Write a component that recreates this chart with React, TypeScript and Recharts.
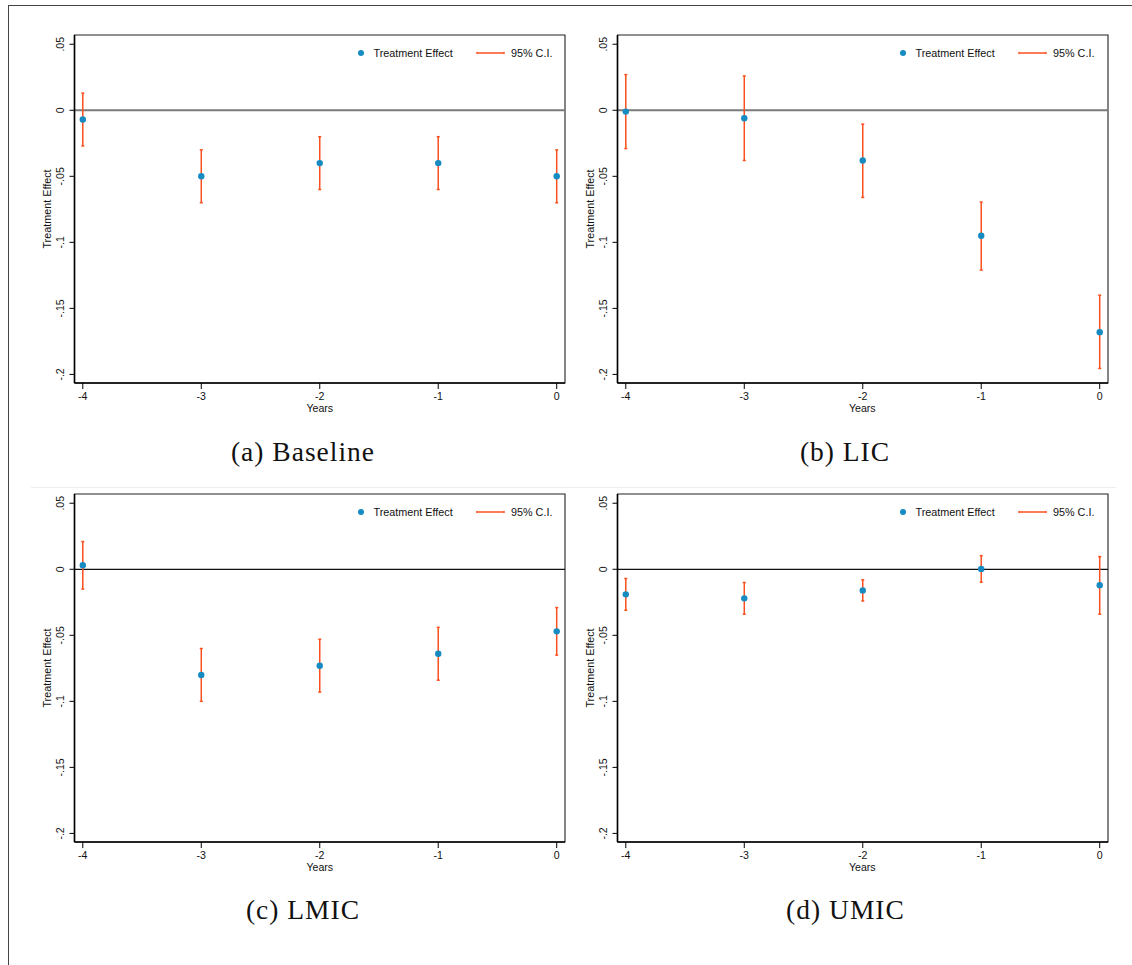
import React from 'react';
import {
  ScatterChart,
  Scatter,
  XAxis,
  YAxis,
  ErrorBar,
  ReferenceLine,
  ReferenceArea,
} from 'recharts';

const years = [-4, -3, -2, -1, 0];
const yTicks = [-0.2, -0.15, -0.1, -0.05, 0, 0.05];

const baselineEst = [-0.007, -0.05, -0.04, -0.04, -0.05];
const baselineLo = [-0.027, -0.07, -0.06, -0.06, -0.07];
const baselineHi = [0.013, -0.03, -0.02, -0.02, -0.03];

const licEst = [-0.001, -0.006, -0.038, -0.095, -0.168];
const licLo = [-0.029, -0.038, -0.066, -0.121, -0.1955];
const licHi = [0.027, 0.026, -0.0105, -0.0695, -0.14];

const lmicEst = [0.003, -0.08, -0.073, -0.064, -0.047];
const lmicLo = [-0.015, -0.1, -0.093, -0.084, -0.065];
const lmicHi = [0.021, -0.06, -0.053, -0.044, -0.029];

const umicEst = [-0.019, -0.022, -0.016, 0.0003, -0.012];
const umicLo = [-0.031, -0.034, -0.024, -0.0098, -0.034];
const umicHi = [-0.007, -0.01, -0.008, 0.0103, 0.0096];

const X_DOMAIN: [number, number] = [-4.07, 0.07];
const Y_DOMAIN: [number, number] = [-0.2065, 0.057];

const DOT = '#168bc2';
const CI = '#fa501e';
const SANS = '"Liberation Sans", Arial, sans-serif';
const SERIF = '"Liberation Serif", "Times New Roman", serif';

// chart box geometry (plot area = 74.5..565 x 35..383 inside each chart)
const CW = 580;
const CH = 440;
const PL = 74.5;
const PT = 35;
const PW = 490.5;
const PH = 348;

function rows(est: number[], lo: number[], hi: number[]) {
  return years.map((x, i) => ({
    x,
    y: est[i],
    err: [est[i] - lo[i], hi[i] - est[i]],
  }));
}

function fmtY(v: number) {
  if (v === 0) return '0';
  return (v < 0 ? '-' : '') + String(Math.abs(v)).replace(/^0/, '');
}

function YTick({ x, y, payload }: any) {
  const tx = x - 3.5;
  return (
    <text
      x={tx}
      y={y}
      transform={`rotate(-90 ${tx} ${y})`}
      textAnchor="middle"
      fontSize={10.6}
      fontFamily={SANS}
      fill="#111"
    >
      {fmtY(payload.value)}
    </text>
  );
}

function Dot(props: any) {
  return <circle cx={props.cx} cy={props.cy} r={3.2} fill={DOT} />;
}

function Panel({
  left,
  top,
  data,
  title,
  titleX,
  titleY,
  zeroStyle,
}: {
  left: number;
  top: number;
  data: { x: number; y: number; err: number[] }[];
  title: string;
  titleX: number;
  titleY: number;
  zeroStyle: { stroke: string; width: number };
}) {
  const plotLeft = left + PL;
  const plotTop = top + PT;
  return (
    <>
      <div style={{ position: 'absolute', left, top, width: CW, height: CH }}>
        <ScatterChart
          width={CW}
          height={CH}
          margin={{ top: PT, right: CW - PL - PW, bottom: 17, left: 29.5 }}
        >
          <XAxis
            type="number"
            dataKey="x"
            domain={X_DOMAIN}
            allowDataOverflow
            ticks={years}
            height={40}
            tickSize={6}
            tickMargin={3}
            axisLine={{ stroke: '#000', strokeWidth: 1.6 }}
            tickLine={{ stroke: '#000' }}
            tick={{ fontSize: 10.6, fontFamily: SANS, fill: '#111' }}
          />
          <YAxis
            type="number"
            dataKey="y"
            domain={Y_DOMAIN}
            allowDataOverflow
            ticks={yTicks}
            width={45}
            tickSize={5}
            axisLine={{ stroke: '#000', strokeWidth: 1.6 }}
            tickLine={{ stroke: '#000' }}
            tick={<YTick />}
          />
          <ReferenceArea
            x1={X_DOMAIN[0]}
            x2={X_DOMAIN[1]}
            y1={Y_DOMAIN[0]}
            y2={Y_DOMAIN[1]}
            fill="none"
            stroke="#222"
            strokeWidth={1.1}
          />
          <ReferenceLine y={0} stroke={zeroStyle.stroke} strokeWidth={zeroStyle.width} />
          <Scatter data={data} shape={<Dot />} isAnimationActive={false}>
            <ErrorBar
              dataKey="err"
              direction="y"
              width={1.5}
              stroke={CI}
              strokeWidth={1.5}
              isAnimationActive={false}
            />
          </Scatter>
        </ScatterChart>
      </div>

      {/* legend */}
      <svg
        style={{ position: 'absolute', left: plotLeft + 280, top: plotTop + 10.5 }}
        width={200}
        height={14}
      >
        <circle cx={6} cy={7} r={3} fill={DOT} />
        <text x={18.5} y={10.8} fontSize={10.8} fontFamily={SANS} fill="#111">
          Treatment Effect
        </text>
        <line x1={121.5} x2={149.5} y1={7} y2={7} stroke={CI} strokeWidth={1.5} />
        <line x1={122} x2={122} y1={5.8} y2={8.2} stroke={CI} strokeWidth={1} />
        <line x1={149} x2={149} y1={5.8} y2={8.2} stroke={CI} strokeWidth={1} />
        <text x={156} y={10.8} fontSize={10.8} fontFamily={SANS} fill="#111">
          95% C.I.
        </text>
      </svg>

      {/* axis titles */}
      <div
        style={{
          position: 'absolute',
          left: plotLeft - 27.5,
          top: plotTop + PH / 2,
          transform: 'translate(-50%, -50%) rotate(-90deg)',
          fontFamily: SANS,
          fontSize: 10.8,
          lineHeight: 1,
          whiteSpace: 'nowrap',
          color: '#111',
        }}
      >
        Treatment Effect
      </div>
      <div
        style={{
          position: 'absolute',
          left: plotLeft + PW / 2,
          top: plotTop + PH + 25.3,
          transform: 'translate(-50%, -50%)',
          fontFamily: SANS,
          fontSize: 10.6,
          lineHeight: 1,
          whiteSpace: 'nowrap',
          color: '#111',
        }}
      >
        Years
      </div>

      {/* sub-caption */}
      <div
        style={{
          position: 'absolute',
          left: titleX,
          top: titleY,
          transform: 'translate(-50%, -50%)',
          fontFamily: SERIF,
          fontSize: 27.5,
          letterSpacing: 1,
          lineHeight: 1,
          whiteSpace: 'nowrap',
          color: '#111',
        }}
      >
        {title}
      </div>
    </>
  );
}

export default function App() {
  const topZero = { stroke: '#7a7a7a', width: 2 };
  const botZero = { stroke: '#111', width: 1.2 };
  return (
    <div
      style={{
        position: 'absolute',
        left: 0,
        top: 0,
        width: 1132,
        height: 965,
        background: '#fff',
        overflow: 'hidden',
      }}
    >
      {/* figure frame */}
      <div
        style={{
          position: 'absolute',
          left: 8,
          top: 5,
          width: 1124,
          height: 960,
          borderTop: '1px solid #444',
          borderLeft: '1px solid #444',
        }}
      />
      <div
        style={{
          position: 'absolute',
          left: 31,
          top: 487,
          width: 1085,
          height: 1,
          background: '#eee',
        }}
      />

      <Panel
        left={0}
        top={0}
        data={rows(baselineEst, baselineLo, baselineHi)}
        title="(a) Baseline"
        titleX={303}
        titleY={452}
        zeroStyle={topZero}
      />
      <Panel
        left={542.5}
        top={0}
        data={rows(licEst, licLo, licHi)}
        title="(b) LIC"
        titleX={845}
        titleY={452}
        zeroStyle={topZero}
      />
      <Panel
        left={0}
        top={459}
        data={rows(lmicEst, lmicLo, lmicHi)}
        title="(c) LMIC"
        titleX={303}
        titleY={910}
        zeroStyle={botZero}
      />
      <Panel
        left={542.5}
        top={459}
        data={rows(umicEst, umicLo, umicHi)}
        title="(d) UMIC"
        titleX={845.5}
        titleY={910}
        zeroStyle={botZero}
      />
    </div>
  );
}
